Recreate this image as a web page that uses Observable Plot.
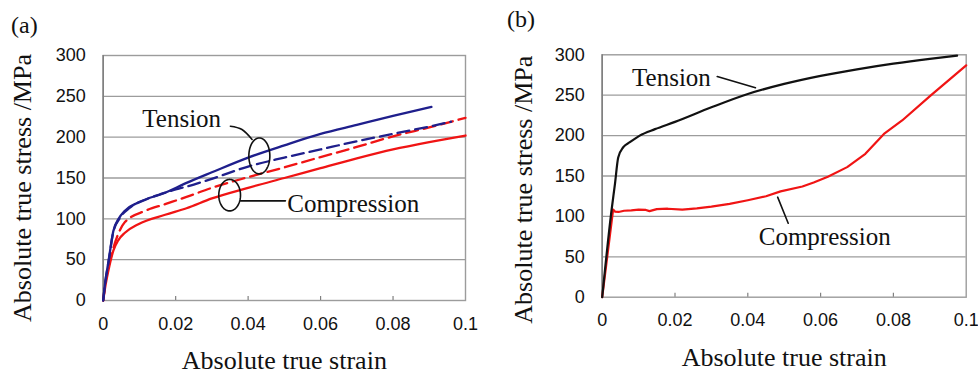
<!DOCTYPE html>
<html>
<head>
<meta charset="utf-8">
<script src="https://cdn.jsdelivr.net/npm/d3@7"></script>
<script src="https://cdn.jsdelivr.net/npm/@observablehq/plot@0.6"></script>
<style>
  html, body { margin: 0; padding: 0; background: #fff; }
  #wrap { position: relative; width: 978px; height: 374px; overflow: hidden; }
  .panel { position: absolute; top: 0; }
  .plabel { position: absolute; font-family: "Liberation Serif", "Times New Roman", serif; font-size: 24px; color: #111; line-height: 1; }
</style>
</head>
<body>
<div id="wrap">
  <div class="plabel" style="left:11px; top:13px;">(a)</div>
  <div class="plabel" style="left:507px; top:7px;">(b)</div>
</div>
<script>
// ---------- Data ----------
const xTicks = [0, 0.02, 0.04, 0.06, 0.08, 0.1];
const xTickLabels = ["0", "0.02", "0.04", "0.06", "0.08", "0.1"];
const yTicks = [0, 50, 100, 150, 200, 250, 300];
const xTitle = "Absolute true strain";
const yTitle = "Absolute true stress /MPa";

// Panel (a)
const aTension1Strain = [0, 0.0005, 0.0015, 0.0028, 0.0042, 0.006, 0.0097, 0.0171, 0.023, 0.03, 0.04, 0.05, 0.06, 0.07, 0.08, 0.0906];
const aTension1Stress = [0, 20, 49, 85, 99.6, 110, 120, 132, 144, 157, 175, 190, 204, 215, 226, 237];
const aTension2Strain = [0, 0.0005, 0.0015, 0.0028, 0.0047, 0.0074, 0.012, 0.018, 0.025, 0.03, 0.04, 0.05, 0.06, 0.07, 0.08, 0.09, 0.096];
const aTension2Stress = [0, 20, 48, 84, 101.6, 113.8, 124, 133.3, 142, 149, 164, 175, 185, 195, 204, 213, 219];
const aCompr1Strain = [0, 0.0005, 0.0015, 0.0028, 0.0042, 0.006, 0.0097, 0.0171, 0.023, 0.03, 0.04, 0.05, 0.06, 0.07, 0.08, 0.09, 0.1];
const aCompr1Stress = [0, 15, 38, 61, 74, 83, 93.5, 105, 113, 125, 138, 150, 162, 174, 185, 194, 202];
const aCompr2Strain = [0, 0.0005, 0.0015, 0.0024, 0.0042, 0.006, 0.0116, 0.0171, 0.023, 0.03, 0.04, 0.05, 0.06, 0.07, 0.08, 0.09, 0.1];
const aCompr2Stress = [0, 18, 42, 58, 82, 96, 109.8, 118, 126.8, 138, 151, 163, 175.6, 188, 201, 212, 223.6];

// Panel (b)
const bTensionStrain = [0, 0.00255, 0.0035, 0.0044, 0.0058, 0.0076, 0.0103, 0.0145, 0.02, 0.03, 0.04, 0.05, 0.06, 0.07, 0.08, 0.09, 0.0975];
const bTensionStress = [0, 107, 140, 173, 185.6, 191.8, 200, 208, 217, 235, 251.5, 264, 274, 282, 289, 295, 299];
const bComprStrain = [0, 0.003, 0.0035, 0.0045, 0.006, 0.008, 0.01, 0.012, 0.013, 0.015, 0.018, 0.022, 0.026, 0.03, 0.035, 0.04, 0.045, 0.049, 0.055, 0.0581, 0.062, 0.0673, 0.0723, 0.0774, 0.0824, 0.0902, 0.1];
const bComprStress = [0, 108.5, 106, 105.5, 107, 107.5, 108.5, 108, 106.5, 109, 109.5, 108.5, 110, 112, 115.5, 120, 125, 131, 137, 142, 149, 161, 177.5, 202, 218.7, 249.5, 287];

// Annotation labels (data coordinates)
const aLabels = [
  {text: "Tension", x: 0.0108, y: 222},
  {text: "Compression", x: 0.0508, y: 118.7}
];
const bLabels = [
  {text: "Tension", x: 0.0082, y: 271.5},
  {text: "Compression", x: 0.043, y: 75}
];
// Ellipses grouping curves in (a): center, radii (data units)
const aEllipses = [
  {cx: 0.0431, cy: 177, rx: 0.0029, ry: 22},
  {cx: 0.0349, cy: 129, rx: 0.003, ry: 19.3}
];
// Leader lines
const aLeaderTension = [[0.0351, 213.4], [0.0383, 209.4], [0.0411, 197.2]];
const aLeaderCompr = [[0.0379, 122], [0.0503, 122]];
const bLeaderTension = [[0.0316, 273.2], [0.0421, 259.2]];
const bLeaderCompr = [[0.0482, 123.8], [0.0511, 91.6]];

// ---------- Helpers ----------
const zip = (xs, ys) => xs.map((x, i) => ({x, y: ys[i]}));
function ellipse(e) {
  const pts = [];
  for (let i = 0; i <= 72; i++) {
    const t = (i / 72) * 2 * Math.PI;
    pts.push({x: e.cx + e.rx * Math.cos(t), y: e.cy + e.ry * Math.sin(t)});
  }
  return pts;
}
const BLUE = "#1f1f8c";
const RED = "#f01414";
const GRID = "#9c9c9c";
const SERIF = "Liberation Serif, Times New Roman, serif";

function basePanel({mL, mR, mT, mB, tickPad, yTitleDx, yTitleDy, xTitleDy}) {
  const W = 489, H = 374;
  const plotH = H - mT - mB;
  return {
    W, H,
    common: [
      Plot.gridY(yTicks.filter(d => d > 0 && d < 300), {stroke: GRID, strokeOpacity: 1, strokeWidth: 1.3}),
      Plot.frame({stroke: GRID, strokeWidth: 1.4}),
      Plot.ruleX([0], {stroke: "#808080", strokeWidth: 1.6}),
      Plot.tickX(xTicks.slice(1, -1), {x: d => d, stroke: "#808080", strokeWidth: 1.2, insetTop: plotH - 4}),
      Plot.axisX(xTicks, {tickSize: 0, tickPadding: tickPad, tickFormat: (d) => xTickLabels[xTicks.indexOf(d)], fill: "#111", label: null}),
      Plot.axisY(yTicks, {tickSize: 0, tickPadding: 17.5, fill: "#111", label: null}),
      Plot.text([yTitle], {frameAnchor: "left", textAnchor: "middle", lineAnchor: "middle", rotate: -90, dx: yTitleDx, dy: yTitleDy, fontFamily: SERIF, fontSize: 26, fill: "#111"}),
      Plot.text([xTitle], {frameAnchor: "bottom", textAnchor: "middle", lineAnchor: "middle", dy: xTitleDy, fontFamily: SERIF, fontSize: 26, fill: "#111"})
    ],
    opts: {
      width: W, height: H,
      marginLeft: mL, marginRight: mR, marginTop: mT, marginBottom: mB,
      x: {domain: [0, 0.1]},
      y: {domain: [0, 300]},
      style: {fontFamily: "Liberation Sans, Arial, sans-serif", fontSize: "18px", color: "#111", background: "transparent", overflow: "visible"}
    }
  };
}

// ---------- Panel (a) ----------
const pa = basePanel({mL: 102.7, mR: 24, mT: 55, mB: 74, tickPad: 17, yTitleDx: -81, yTitleDy: 10, xTitleDy: 60});
const plotA = Plot.plot({
  ...pa.opts,
  marks: [
    ...pa.common,
    Plot.line(zip(aCompr1Strain, aCompr1Stress), {x: "x", y: "y", stroke: RED, strokeWidth: 2.3, curve: "monotone-x"}),
    Plot.line(zip(aCompr2Strain, aCompr2Stress), {x: "x", y: "y", stroke: RED, strokeWidth: 2.3, strokeDasharray: "12,6", curve: "monotone-x"}),
    Plot.line(zip(aTension2Strain, aTension2Stress), {x: "x", y: "y", stroke: BLUE, strokeWidth: 2.3, strokeDasharray: "12,6", curve: "monotone-x"}),
    Plot.line(zip(aTension1Strain, aTension1Stress), {x: "x", y: "y", stroke: BLUE, strokeWidth: 2.3, curve: "monotone-x"}),
    ...aEllipses.map(e => Plot.line(ellipse(e), {x: "x", y: "y", stroke: "#111", strokeWidth: 1.6})),
    Plot.line(aLeaderTension, {x: d => d[0], y: d => d[1], stroke: "#111", strokeWidth: 1.6, curve: "natural"}),
    Plot.line(aLeaderCompr, {x: d => d[0], y: d => d[1], stroke: "#111", strokeWidth: 1.6}),
    Plot.text(aLabels, {x: "x", y: "y", text: "text", textAnchor: "start", fontFamily: SERIF, fontSize: 25, fill: "#111"})
  ]
});
plotA.classList.add("panel");
plotA.style.left = "0px";
document.getElementById("wrap").appendChild(plotA);

// ---------- Panel (b) ----------
const pb = basePanel({mL: 112.7, mR: 12.3, mT: 54.3, mB: 77.3, tickPad: 16, yTitleDx: -78.4, yTitleDy: 13.7, xTitleDy: 60});
const plotB = Plot.plot({
  ...pb.opts,
  marks: [
    ...pb.common,
    Plot.line(zip(bComprStrain, bComprStress), {x: "x", y: "y", stroke: RED, strokeWidth: 2.2}),
    Plot.line(zip(bTensionStrain, bTensionStress), {x: "x", y: "y", stroke: "#111", strokeWidth: 2.2, curve: "monotone-x"}),
    Plot.line(bLeaderTension, {x: d => d[0], y: d => d[1], stroke: "#111", strokeWidth: 1.6}),
    Plot.line(bLeaderCompr, {x: d => d[0], y: d => d[1], stroke: "#111", strokeWidth: 1.6}),
    Plot.text(bLabels, {x: "x", y: "y", text: "text", textAnchor: "start", fontFamily: SERIF, fontSize: 25, fill: "#111"})
  ]
});
plotB.classList.add("panel");
plotB.style.left = "489px";
document.getElementById("wrap").appendChild(plotB);
</script>
</body>
</html>
